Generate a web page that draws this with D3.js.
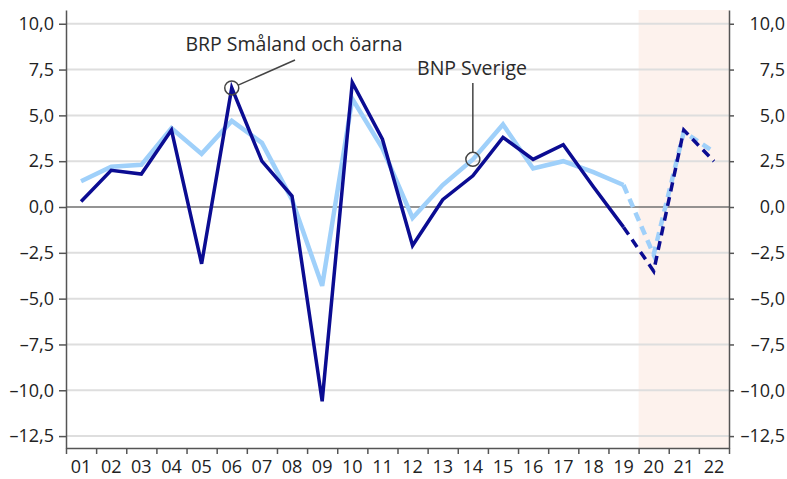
<!DOCTYPE html>
<html>
<head>
<meta charset="utf-8">
<script src="https://cdn.jsdelivr.net/npm/d3@7"></script>
<style>
  body { margin: 0; background: #fff; }
  svg { display: block; font-family: "Open Sans", sans-serif; }
  .axis text { fill: #222; font-size: 18px; }
  .axis path, .axis line { stroke: #555; stroke-width: 1.5; }
  .note { fill: #2a2a2a; font-size: 19.5px; text-anchor: middle; }
</style>
</head>
<body>
<div id="chart"></div>
<script>
// years 2001-2022, 20-22 is forecast
var years = ["01","02","03","04","05","06","07","08","09","10","11",
             "12","13","14","15","16","17","18","19","20","21","22"];

// BRP Småland och öarna, % change
var brpSmaland = [0.3, 2.0, 1.8, 4.2, -3.1, 6.5, 2.5, 0.6, -10.6, 6.8, 3.7,
                  -2.1, 0.4, 1.7, 3.8, 2.6, 3.4, 1.1, -1.1, -3.5, 4.2, 2.5];

// BNP Sverige, % change
var bnpSverige = [1.4, 2.2, 2.3, 4.3, 2.9, 4.7, 3.5, 0.4, -4.3, 5.9, 3.2,
                  -0.6, 1.2, 2.6, 4.5, 2.1, 2.5, 1.9, 1.2, -2.6, 4.1, 3.0];

var yTicks = [10, 7.5, 5, 2.5, 0, -2.5, -5, -7.5, -10, -12.5];
var lastActual = "19";

var margin = { left: 66, right: 58, top: 10, bottom: 31 };
var width = 787 - margin.left - margin.right;
var height = 479 - margin.top - margin.bottom;

var svg = d3.select("#chart")
    .append("svg")
    .attr("width", width + margin.left + margin.right)
    .attr("height", height + margin.top + margin.bottom)
    .append("g")
    .attr("transform", "translate(" + margin.left + "," + margin.top + ")");

var xScale = d3.scaleBand().domain(years).range([0, width]);
var xEdges = d3.scaleLinear().domain([0, years.length]).range([0, width]);
var yScale = d3.scaleLinear().domain([-13.15, 10.75]).range([height, 0]);

// swedish style: comma decimal, dash as minus
var fmt = function (d) { return d3.format(".1f")(Math.abs(d)).replace(".", ",").replace(/^/, d < 0 ? "–" : ""); };

// forecast shading
var cut = years.indexOf(lastActual) + 1;
svg.append("rect")
    .attr("x", xEdges(cut))
    .attr("y", 0)
    .attr("width", width - xEdges(cut))
    .attr("height", height)
    .attr("fill", "#fdf2ed");

// grid
svg.selectAll(".grid")
    .data(yTicks.filter(function (d) { return d !== 0; }))
    .enter()
    .append("line")
    .attr("class", "grid")
    .attr("x1", 0)
    .attr("x2", width)
    .attr("y1", function (d) { return yScale(d); })
    .attr("y2", function (d) { return yScale(d); })
    .attr("stroke", "#dedede")
    .attr("stroke-width", 2);

svg.append("line")
    .attr("x1", 0)
    .attr("x2", width)
    .attr("y1", yScale(0))
    .attr("y2", yScale(0))
    .attr("stroke", "#707070")
    .attr("stroke-width", 1.5);

// axes
svg.append("g")
    .attr("class", "axis")
    .call(d3.axisLeft(yScale).tickValues(yTicks).tickSize(7).tickSizeOuter(0).tickPadding(5).tickFormat(fmt));

svg.append("g")
    .attr("class", "axis")
    .attr("transform", "translate(" + width + ",0)")
    .call(d3.axisRight(yScale).tickValues(yTicks).tickSize(5).tickSizeOuter(0).tickFormat(fmt))
    .selectAll("text")
    .attr("x", margin.right - 2)
    .attr("text-anchor", "end");

svg.append("g")
    .attr("class", "axis")
    .attr("transform", "translate(0," + height + ")")
    .call(d3.axisBottom(xEdges).tickValues(d3.range(0, years.length + 1)).tickSize(6).tickSizeOuter(0).tickFormat(""));

svg.append("g")
    .attr("class", "axis")
    .attr("transform", "translate(0," + height + ")")
    .call(d3.axisBottom(xScale).tickSize(0).tickPadding(12))
    .select(".domain").remove();

d3.selectAll(".axis").attr("font-family", null).attr("font-size", null);

// lines
var line = d3.line()
    .x(function (d) { return xScale(d.year) + xScale.bandwidth() / 2; })
    .y(function (d) { return yScale(d.value); });

function rows(values) {
    return years.map(function (y, i) { return { year: y, value: values[i] }; });
}

function drawSeries(values, color, w) {
    var all = rows(values);
    svg.append("path")
        .datum(all.slice(0, cut))
        .attr("d", line)
        .attr("fill", "none")
        .attr("stroke", color)
        .attr("stroke-width", w);
    svg.append("path")
        .datum(all.slice(cut - 1))
        .attr("d", line)
        .attr("fill", "none")
        .attr("stroke", color)
        .attr("stroke-width", w)
        .attr("stroke-dasharray", "9,6");
}

drawSeries(bnpSverige, "#9fd0fa", 4.5);
drawSeries(brpSmaland, "#0b0c92", 3.5);

// annotations
var cx1 = xScale("06") + xScale.bandwidth() / 2, cy1 = yScale(brpSmaland[5]);
var cx2 = xScale("14") + xScale.bandwidth() / 2, cy2 = yScale(bnpSverige[13]);
var r = 7;

svg.append("circle").attr("cx", cx1).attr("cy", cy1).attr("r", r)
    .attr("fill", "none").attr("stroke", "#444").attr("stroke-width", 1.5);
svg.append("circle").attr("cx", cx2).attr("cy", cy2).attr("r", r)
    .attr("fill", "none").attr("stroke", "#444").attr("stroke-width", 1.5);

var ex = 229, ey = 50;
var a = Math.atan2(ey - cy1, ex - cx1);
svg.append("line")
    .attr("x1", cx1 + r * Math.cos(a)).attr("y1", cy1 + r * Math.sin(a))
    .attr("x2", ex).attr("y2", ey)
    .attr("stroke", "#444").attr("stroke-width", 1.5);

svg.append("line")
    .attr("x1", cx2).attr("y1", 73)
    .attr("x2", cx2).attr("y2", cy2 - r)
    .attr("stroke", "#444").attr("stroke-width", 1.5);

svg.append("text").attr("class", "note").attr("x", 228).attr("y", 41).text("BRP Småland och öarna");
svg.append("text").attr("class", "note").attr("x", 406).attr("y", 65).text("BNP Sverige");
</script>
</body>
</html>
